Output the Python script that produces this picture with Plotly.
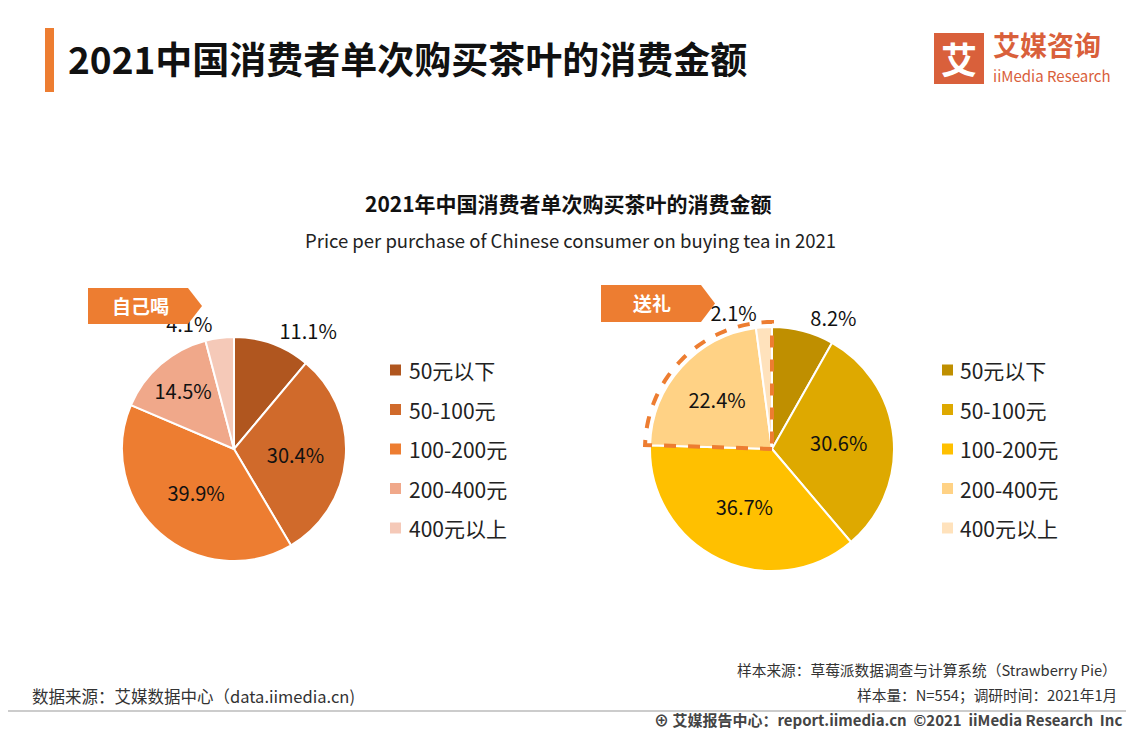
import plotly.graph_objects as go
import math

categories = ["50元以下", "50-100元", "100-200元", "200-400元", "400元以上"]
self_vals = [11.1, 30.4, 39.9, 14.5, 4.1]
gift_vals = [8.2, 30.6, 36.7, 22.4, 2.1]
self_colors = ["#B0561F", "#D06A2B", "#ED7D31", "#F0A88A", "#F5C9B8"]
gift_colors = ["#BF8F00", "#DEA900", "#FFC000", "#FFD285", "#FFE2BC"]

OFF = 8
W, H = 1134 - 2 * OFF, 737 - 2 * OFF
def px(x): return (x - OFF) / W
def py(y): return 1 - (y - OFF) / H

FONT = "Noto Sans CJK SC"
fig = go.Figure()

def add_pie(vals, colors, cx, cy, r, positions):
    fig.add_trace(go.Pie(
        labels=categories, values=vals, sort=False, direction="clockwise", rotation=0,
        marker=dict(colors=colors, line=dict(color="white", width=2)),
        domain=dict(x=[px(cx - r), px(cx + r)], y=[py(cy + r), py(cy - r)]),
        texttemplate="%{value:.1f}%", textposition=positions,
        textfont=dict(size=20, color="#111", family=FONT),
        insidetextorientation="horizontal", showlegend=False,
        hoverinfo="label+value"))

add_pie(self_vals, self_colors, 234, 449, 112, ["outside", "inside", "inside", "inside", "outside"])
add_pie(gift_vals, gift_colors, 772, 449, 122, ["outside", "inside", "inside", "inside", "outside"])

cx, cy, R = 772, 449, 127
frac = (gift_vals[3] + gift_vals[4]) / sum(gift_vals)
a0 = -frac * 2 * math.pi
pts = []
n = 40
for i in range(n + 1):
    a = a0 + (0 - a0) * i / n
    pts.append((cx + R * math.sin(a), cy - R * math.cos(a)))
path = f"M {px(cx)} {py(cy)} " + " ".join(f"L {px(x)} {py(y)}" for x, y in pts) + " Z"
shapes = [dict(type="path", path=path, xref="paper", yref="paper",
               line=dict(color="#ED7D31", width=4, dash="dash"))]

shapes.append(dict(type="rect", xref="paper", yref="paper", x0=px(45), x1=px(54), y0=py(92), y1=py(28),
                   fillcolor="#ED7D31", line_width=0))
def tag(x0, x1, y0, y1):
    tip = x1 - 14
    p = f"M {px(x0)} {py(y0)} L {px(tip)} {py(y0)} L {px(x1)} {py((y0+y1)/2)} L {px(tip)} {py(y1)} L {px(x0)} {py(y1)} Z"
    shapes.append(dict(type="path", path=p, xref="paper", yref="paper", fillcolor="#ED7D31", line_width=0))
tag(88, 202, 288, 324)
tag(601, 715, 285, 322)
shapes.append(dict(type="rect", xref="paper", yref="paper", x0=px(934), x1=px(984), y0=py(84), y1=py(33),
                   fillcolor="#D9603B", line_width=0))
shapes.append(dict(type="line", xref="paper", yref="paper", x0=0, x1=1, y0=py(711), y1=py(711),
                   line=dict(color="#999", width=1)))

ann = []
def t(x, y, s, size, color="#222", bold=False, anchor="left", fam=FONT):
    ann.append(dict(x=px(x), y=py(y), xref="paper", yref="paper", text=f"<b>{s}</b>" if bold else s,
                    showarrow=False, xanchor=anchor, yanchor="middle",
                    font=dict(size=size, color=color, family=fam)))

def legend(x, tx, y0, colors):
    for i, (c, lab) in enumerate(zip(colors, categories)):
        y = y0 + i * 39.5
        shapes.append(dict(type="rect", xref="paper", yref="paper", x0=px(x), x1=px(x + 11),
                           y0=py(y + 5.5), y1=py(y - 5.5), fillcolor=c, line_width=0))
        t(tx - 3, y, lab, 21, "#222")
legend(390, 410, 370, self_colors)
legend(942, 961, 370, gift_colors)

t(66, 58, "2021中国消费者单次购买茶叶的消费金额", 37, "#111", True)
t(568, 203, "2021年中国消费者单次购买茶叶的消费金额", 21, "#111", True, "center")
t(570, 240, "Price per purchase of Chinese consumer on buying tea in 2021", 18.5, "#222", False, "center")
t(140, 305, "自己喝", 19, "white", True, "center")
t(652, 302, "送礼", 19, "white", True, "center")
t(959, 58, "艾", 36, "white", True, "center")
t(991, 45, "艾媒咨询", 27, "#D9603B", True)
t(991, 76, "iiMedia Research", 15, "#D9603B")
t(30, 696, "数据来源：艾媒数据中心（data.iimedia.cn)", 16.5, "#333")
t(1119, 669, "样本来源：草莓派数据调查与计算系统（Strawberry Pie）", 14.7, "#333", anchor="right")
t(1119, 694, "样本量：N=554；调研时间：2021年1月", 14.7, "#333", anchor="right")
t(1124, 719, "<b>⊕ 艾媒报告中心：report.iimedia.cn  ©2021  iiMedia Research  Inc</b>", 15, "#444", anchor="right")

fig.update_layout(
    width=W, height=H, margin=dict(l=0, r=0, t=0, b=0), paper_bgcolor="white",
    shapes=shapes, annotations=ann, font=dict(family=FONT),
)
fig.write_html("out.html")
